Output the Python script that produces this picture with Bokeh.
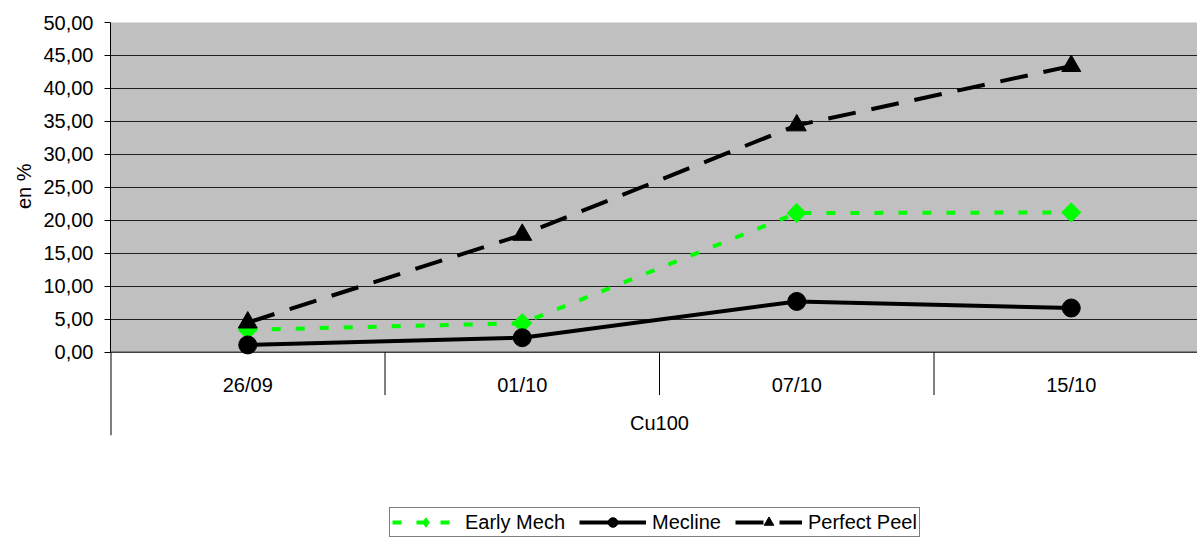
import math
from bokeh.plotting import figure
from bokeh.models import (Range1d, FixedTicker, BoxAnnotation, Span,
                          Legend, LegendItem, Title)
from bokeh.core.properties import value
from bokeh.embed import file_html
from bokeh.resources import INLINE

# ---- data ----
categories = ["26/09", "01/10", "07/10", "15/10"]
group_label = "Cu100"
early_mech = [3.4, 4.4, 21.1, 21.2]
mecline = [1.1, 2.2, 7.7, 6.7]
perfect_peel = [4.5, 17.8, 34.4, 43.4]
y_ticks = [0, 5, 10, 15, 20, 25, 30, 35, 40, 45, 50]
y_title = "en %"
series_names = ["Early Mech", "Mecline", "Perfect Peel"]

FONT = "Liberation Sans"
FS = "20px"
n = len(categories)
xs = [i + 0.5 for i in range(n)]
y_max = y_ticks[-1]

# layout (pixels)
W, H = 1197, 539
left_px, top_px = 110, 22
px_per_cat = 274.5
px_per_unit = 6.594
frame_w = W - left_px
frame_h = H - top_px
x_end = frame_w / px_per_cat
y_bottom = y_max - frame_h / px_per_unit

p = figure(width=W, height=H, output_backend="svg", toolbar_location=None,
           x_range=Range1d(0, x_end), y_range=Range1d(y_bottom, y_max),
           x_axis_location=None, min_border_left=left_px, min_border_right=0,
           min_border_top=top_px, min_border_bottom=0)
p.outline_line_color = None
p.background_fill_color = "white"
p.border_fill_color = "white"
p.xgrid.visible = False

# grey plot area
box = BoxAnnotation(bottom=0, top=y_max, fill_color="#C0C0C0", fill_alpha=1,
                    line_color="#808080", line_width=1, level="underlay")
p.add_layout(box)
p.center = [box] + [r for r in p.center if r is not box]

p.ygrid.ticker = FixedTicker(ticks=[t for t in y_ticks if t > 0])
p.ygrid.grid_line_color = "#202020"
p.ygrid.grid_line_width = 1

# y axis
ax = p.yaxis[0]
ax.ticker = FixedTicker(ticks=y_ticks)
ax.major_label_overrides = {t: f"{t:.2f}".replace(".", ",") for t in y_ticks}
ax.bounds = (0, y_max)
ax.major_tick_out = 6
ax.major_tick_in = 0
ax.minor_tick_out = 0
ax.minor_tick_in = 0
ax.major_label_standoff = 11
ax.axis_line_color = "black"
ax.major_tick_line_color = "black"
ax.major_label_text_font = FONT
ax.major_label_text_font_size = FS
ax.major_label_text_color = "black"

# y title: anchored at the top of the panel, pushed down to sit on the 0..50 span
p.add_layout(Title(text=y_title, align="right", offset=141,
                   text_font=FONT, text_font_size=FS, text_font_style="normal",
                   text_color="black", standoff=12), "left")

# category axis (below zero line)
p.add_layout(Span(location=0, dimension="width", line_color="black", line_width=1))
p.segment(x0=[0], y0=[0], x1=[0], y1=[-12.6], line_color="black", line_width=2)
bounds = list(range(1, n))
p.segment(x0=bounds, y0=[0] * len(bounds), x1=bounds, y1=[-6.5] * len(bounds),
          line_color="black", line_width=1)
p.text(x=xs, y=[-4.9] * n, text=categories, text_align="center",
       text_baseline="middle", text_font=value(FONT), text_font_size=value(FS),
       text_color="black")
p.text(x=[n / 2], y=[-10.8], text=[group_label], text_align="center",
       text_baseline="middle", text_font=value(FONT), text_font_size=value(FS),
       text_color="black")

# series
GREEN = "#00FF00"
l1 = p.line(xs, early_mech, line_color=GREEN, line_width=4, line_dash="9 15")
s1_leg = p.scatter(xs, early_mech, marker="diamond", size=16,
                   fill_color=GREEN, line_color=GREEN)
s1 = p.scatter(xs, early_mech, marker="square", size=13.5, angle=math.pi / 4,
               fill_color=GREEN, line_color=GREEN)
l2 = p.line(xs, mecline, line_color="black", line_width=4, line_join="round")
s2 = p.scatter(xs, mecline, marker="circle", size=18,
               fill_color="black", line_color="black")
l3 = p.line(xs, perfect_peel, line_color="black", line_width=4, line_dash="28 16")
s3 = p.scatter(xs, perfect_peel, marker="triangle", size=19,
               fill_color="black", line_color="black")

legend = Legend(items=[LegendItem(label=series_names[0], renderers=[l1, s1_leg]),
                       LegendItem(label=series_names[1], renderers=[l2, s2]),
                       LegendItem(label=series_names[2], renderers=[l3, s3])],
                location=(279, 2), orientation="horizontal",
                glyph_width=67, glyph_height=24, label_height=24,
                label_standoff=6, spacing=14, padding=2, margin=0,
                border_line_color="black", border_line_width=1,
                background_fill_color="white", background_fill_alpha=1,
                label_text_font=FONT, label_text_font_size=FS,
                label_text_color="black")
p.add_layout(legend)

open("out.html", "w").write(file_html(p, INLINE))
